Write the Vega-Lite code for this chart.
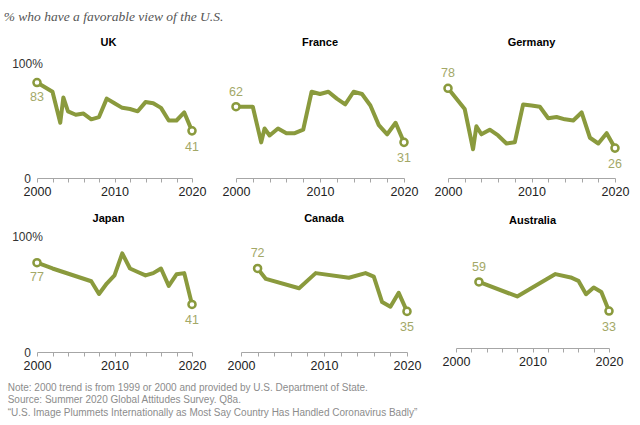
{
  "$schema": "https://vega.github.io/schema/vega-lite/v6.json",
  "background": "white",
  "padding": {"left": 3, "top": 9, "right": 5, "bottom": 5},
  "datasets": {
    "fav": [
      {"country": "UK", "year": 2000, "value": 83},
      {"country": "UK", "year": 2002, "value": 75},
      {"country": "UK", "year": 2003, "value": 48},
      {"country": "UK", "year": 2003.4, "value": 70},
      {"country": "UK", "year": 2004, "value": 58},
      {"country": "UK", "year": 2005, "value": 55},
      {"country": "UK", "year": 2006, "value": 56},
      {"country": "UK", "year": 2007, "value": 51},
      {"country": "UK", "year": 2008, "value": 53},
      {"country": "UK", "year": 2009, "value": 69},
      {"country": "UK", "year": 2010, "value": 65},
      {"country": "UK", "year": 2011, "value": 61},
      {"country": "UK", "year": 2012, "value": 60},
      {"country": "UK", "year": 2013, "value": 58},
      {"country": "UK", "year": 2014, "value": 66},
      {"country": "UK", "year": 2015, "value": 65},
      {"country": "UK", "year": 2016, "value": 61},
      {"country": "UK", "year": 2017, "value": 50},
      {"country": "UK", "year": 2018, "value": 50},
      {"country": "UK", "year": 2019, "value": 57},
      {"country": "UK", "year": 2020, "value": 41},
      {"country": "France", "year": 2000, "value": 62},
      {"country": "France", "year": 2002, "value": 62},
      {"country": "France", "year": 2003, "value": 31},
      {"country": "France", "year": 2003.4, "value": 43},
      {"country": "France", "year": 2004, "value": 37},
      {"country": "France", "year": 2005, "value": 43},
      {"country": "France", "year": 2006, "value": 39},
      {"country": "France", "year": 2007, "value": 39},
      {"country": "France", "year": 2008, "value": 42},
      {"country": "France", "year": 2009, "value": 75},
      {"country": "France", "year": 2010, "value": 73},
      {"country": "France", "year": 2011, "value": 75},
      {"country": "France", "year": 2012, "value": 69},
      {"country": "France", "year": 2013, "value": 64},
      {"country": "France", "year": 2014, "value": 75},
      {"country": "France", "year": 2015, "value": 73},
      {"country": "France", "year": 2016, "value": 63},
      {"country": "France", "year": 2017, "value": 46},
      {"country": "France", "year": 2018, "value": 38},
      {"country": "France", "year": 2019, "value": 48},
      {"country": "France", "year": 2020, "value": 31},
      {"country": "Germany", "year": 2000, "value": 78},
      {"country": "Germany", "year": 2002, "value": 60},
      {"country": "Germany", "year": 2003, "value": 25},
      {"country": "Germany", "year": 2003.4, "value": 45},
      {"country": "Germany", "year": 2004, "value": 38},
      {"country": "Germany", "year": 2005, "value": 42},
      {"country": "Germany", "year": 2006, "value": 37},
      {"country": "Germany", "year": 2007, "value": 30},
      {"country": "Germany", "year": 2008, "value": 31},
      {"country": "Germany", "year": 2009, "value": 64},
      {"country": "Germany", "year": 2010, "value": 63},
      {"country": "Germany", "year": 2011, "value": 62},
      {"country": "Germany", "year": 2012, "value": 52},
      {"country": "Germany", "year": 2013, "value": 53},
      {"country": "Germany", "year": 2014, "value": 51},
      {"country": "Germany", "year": 2015, "value": 50},
      {"country": "Germany", "year": 2016, "value": 57},
      {"country": "Germany", "year": 2017, "value": 35},
      {"country": "Germany", "year": 2018, "value": 30},
      {"country": "Germany", "year": 2019, "value": 39},
      {"country": "Germany", "year": 2020, "value": 26},
      {"country": "Japan", "year": 2000, "value": 77},
      {"country": "Japan", "year": 2002, "value": 72},
      {"country": "Japan", "year": 2007, "value": 61},
      {"country": "Japan", "year": 2008, "value": 50},
      {"country": "Japan", "year": 2009, "value": 59},
      {"country": "Japan", "year": 2010, "value": 66},
      {"country": "Japan", "year": 2011, "value": 85},
      {"country": "Japan", "year": 2012, "value": 72},
      {"country": "Japan", "year": 2013, "value": 69},
      {"country": "Japan", "year": 2014, "value": 66},
      {"country": "Japan", "year": 2015, "value": 68},
      {"country": "Japan", "year": 2016, "value": 72},
      {"country": "Japan", "year": 2017, "value": 57},
      {"country": "Japan", "year": 2018, "value": 67},
      {"country": "Japan", "year": 2019, "value": 68},
      {"country": "Japan", "year": 2020, "value": 41},
      {"country": "Canada", "year": 2002, "value": 72},
      {"country": "Canada", "year": 2003, "value": 63},
      {"country": "Canada", "year": 2007, "value": 55},
      {"country": "Canada", "year": 2009, "value": 68},
      {"country": "Canada", "year": 2013, "value": 64},
      {"country": "Canada", "year": 2015, "value": 68},
      {"country": "Canada", "year": 2016, "value": 65},
      {"country": "Canada", "year": 2017, "value": 43},
      {"country": "Canada", "year": 2018, "value": 39},
      {"country": "Canada", "year": 2019, "value": 51},
      {"country": "Canada", "year": 2020, "value": 35},
      {"country": "Australia", "year": 2003, "value": 59},
      {"country": "Australia", "year": 2008, "value": 46},
      {"country": "Australia", "year": 2013, "value": 66},
      {"country": "Australia", "year": 2015, "value": 63},
      {"country": "Australia", "year": 2016, "value": 60},
      {"country": "Australia", "year": 2017, "value": 48},
      {"country": "Australia", "year": 2018, "value": 54},
      {"country": "Australia", "year": 2019, "value": 50},
      {"country": "Australia", "year": 2020, "value": 33}
    ]
  },
  "data": {"name": "fav"},
  "title": {
    "text": "% who have a favorable view of the U.S.",
    "anchor": "start",
    "frame": "bounds",
    "dx": -4,
    "offset": 14,
    "font": "Liberation Serif",
    "fontStyle": "italic",
    "fontWeight": "normal",
    "fontSize": 13.5,
    "color": "#555555"
  },
  "spacing": 15,
  "vconcat": [
    {
      "bounds": "flush",
      "spacing": 44,
      "hconcat": [
        {
          "width": 155, "height": 115,
          "title": {"text": "UK", "dx": -6, "offset": 9},
          "transform": [{"filter": "datum.country == 'UK'"}],
          "encoding": {
            "x": {"field": "year", "type": "quantitative", "scale": {"domain": [2000, 2020], "nice": false, "zero": false},
                  "axis": {"values": [2000, 2002, 2004, 2006, 2008, 2010, 2012, 2014, 2016, 2018, 2020], "format": "d", "labelExpr": "datum.value % 10 == 0 ? datum.label : ''", "title": null}},
            "y": {"field": "value", "type": "quantitative", "scale": {"domain": [0, 100], "nice": false},
                  "axis": {"values": [0, 100], "labelExpr": "datum.value == 100 ? '100%' : '0'", "domain": false, "ticks": false, "grid": false, "labelAlign": "center", "labelPadding": 10, "labelFlush": false, "labelFontSize": 12, "labelColor": "#333333", "title": null}}
          },
          "layer": [
            {"mark": {"type": "line", "color": "#8a9a3d", "strokeWidth": 4, "strokeJoin": "round"}},
            {"transform": [{"filter": "datum.year == 2000 || datum.year == 2020"}], "mark": {"type": "point", "filled": true, "fill": "white", "stroke": "#8a9a3d", "strokeWidth": 2.5, "size": 50, "opacity": 1}},
            {"transform": [{"filter": "datum.year == 2000"}], "mark": {"type": "text", "dy": 14, "fontSize": 12.5, "color": "#a3a867", "baseline": "middle"}, "encoding": {"text": {"field": "value"}}},
            {"transform": [{"filter": "datum.year == 2020"}], "mark": {"type": "text", "dy": 16, "fontSize": 12.5, "color": "#a3a867", "baseline": "middle"}, "encoding": {"text": {"field": "value"}}}
          ]
        },
        {
          "width": 168, "height": 115,
          "title": {"text": "France", "offset": 15},
          "transform": [{"filter": "datum.country == 'France'"}],
          "encoding": {
            "x": {"field": "year", "type": "quantitative", "scale": {"domain": [2000, 2020], "nice": false, "zero": false},
                  "axis": {"values": [2000, 2002, 2004, 2006, 2008, 2010, 2012, 2014, 2016, 2018, 2020], "format": "d", "labelExpr": "datum.value % 10 == 0 ? datum.label : ''", "title": null}},
            "y": {"field": "value", "type": "quantitative", "scale": {"domain": [0, 100], "nice": false}, "axis": null}
          },
          "layer": [
            {"mark": {"type": "line", "color": "#8a9a3d", "strokeWidth": 4, "strokeJoin": "round"}},
            {"transform": [{"filter": "datum.year == 2000 || datum.year == 2020"}], "mark": {"type": "point", "filled": true, "fill": "white", "stroke": "#8a9a3d", "strokeWidth": 2.5, "size": 50, "opacity": 1}},
            {"transform": [{"filter": "datum.year == 2000"}], "mark": {"type": "text", "dy": -15, "fontSize": 12.5, "color": "#a3a867", "baseline": "middle"}, "encoding": {"text": {"field": "value"}}},
            {"transform": [{"filter": "datum.year == 2020"}], "mark": {"type": "text", "dy": 16, "fontSize": 12.5, "color": "#a3a867", "baseline": "middle"}, "encoding": {"text": {"field": "value"}}}
          ]
        },
        {
          "width": 167, "height": 115,
          "title": {"text": "Germany", "offset": 15},
          "transform": [{"filter": "datum.country == 'Germany'"}],
          "encoding": {
            "x": {"field": "year", "type": "quantitative", "scale": {"domain": [2000, 2020], "nice": false, "zero": false},
                  "axis": {"values": [2000, 2002, 2004, 2006, 2008, 2010, 2012, 2014, 2016, 2018, 2020], "format": "d", "labelExpr": "datum.value % 10 == 0 ? datum.label : ''", "title": null}},
            "y": {"field": "value", "type": "quantitative", "scale": {"domain": [0, 100], "nice": false}, "axis": null}
          },
          "layer": [
            {"mark": {"type": "line", "color": "#8a9a3d", "strokeWidth": 4, "strokeJoin": "round"}},
            {"transform": [{"filter": "datum.year == 2000 || datum.year == 2020"}], "mark": {"type": "point", "filled": true, "fill": "white", "stroke": "#8a9a3d", "strokeWidth": 2.5, "size": 50, "opacity": 1}},
            {"transform": [{"filter": "datum.year == 2000"}], "mark": {"type": "text", "dy": -15, "fontSize": 12.5, "color": "#a3a867", "baseline": "middle"}, "encoding": {"text": {"field": "value"}}},
            {"transform": [{"filter": "datum.year == 2020"}], "mark": {"type": "text", "dy": 16, "fontSize": 12.5, "color": "#a3a867", "baseline": "middle"}, "encoding": {"text": {"field": "value"}}}
          ]
        }
      ]
    },
    {
      "bounds": "flush",
      "spacing": 49,
      "title": {
        "text": [
          "Note: 2000 trend is from 1999 or 2000 and provided by U.S. Department of State.",
          "Source: Summer 2020 Global Attitudes Survey. Q8a.",
          "“U.S. Image Plummets Internationally as Most Say Country Has Handled Coronavirus Badly”"
        ],
        "orient": "bottom",
        "anchor": "start",
        "frame": "bounds",
        "dx": -4,
        "offset": 11,
        "fontSize": 10,
        "fontWeight": "normal",
        "color": "#8c8c8c",
        "lineHeight": 12.5
      },
      "hconcat": [
        {
          "width": 155, "height": 116,
          "title": {"text": "Japan", "dx": -6, "offset": 6},
          "transform": [{"filter": "datum.country == 'Japan'"}],
          "encoding": {
            "x": {"field": "year", "type": "quantitative", "scale": {"domain": [2000, 2020], "nice": false, "zero": false},
                  "axis": {"values": [2000, 2002, 2004, 2006, 2008, 2010, 2012, 2014, 2016, 2018, 2020], "format": "d", "labelExpr": "datum.value % 10 == 0 ? datum.label : ''", "title": null}},
            "y": {"field": "value", "type": "quantitative", "scale": {"domain": [0, 100], "nice": false},
                  "axis": {"values": [0, 100], "labelExpr": "datum.value == 100 ? '100%' : '0'", "domain": false, "ticks": false, "grid": false, "labelAlign": "center", "labelPadding": 10, "labelFlush": false, "labelFontSize": 12, "labelColor": "#333333", "title": null}}
          },
          "layer": [
            {"mark": {"type": "line", "color": "#8a9a3d", "strokeWidth": 4, "strokeJoin": "round"}},
            {"transform": [{"filter": "datum.year == 2000 || datum.year == 2020"}], "mark": {"type": "point", "filled": true, "fill": "white", "stroke": "#8a9a3d", "strokeWidth": 2.5, "size": 50, "opacity": 1}},
            {"transform": [{"filter": "datum.year == 2000"}], "mark": {"type": "text", "dy": 14, "fontSize": 12.5, "color": "#a3a867", "baseline": "middle"}, "encoding": {"text": {"field": "value"}}},
            {"transform": [{"filter": "datum.year == 2020"}], "mark": {"type": "text", "dy": 16, "fontSize": 12.5, "color": "#a3a867", "baseline": "middle"}, "encoding": {"text": {"field": "value"}}}
          ]
        },
        {
          "width": 166, "height": 116,
          "title": {"text": "Canada", "offset": 12},
          "transform": [{"filter": "datum.country == 'Canada'"}],
          "encoding": {
            "x": {"field": "year", "type": "quantitative", "scale": {"domain": [2000, 2020], "nice": false, "zero": false},
                  "axis": {"values": [2000, 2002, 2004, 2006, 2008, 2010, 2012, 2014, 2016, 2018, 2020], "format": "d", "labelExpr": "datum.value % 10 == 0 ? datum.label : ''", "title": null}},
            "y": {"field": "value", "type": "quantitative", "scale": {"domain": [0, 100], "nice": false}, "axis": null}
          },
          "layer": [
            {"mark": {"type": "line", "color": "#8a9a3d", "strokeWidth": 4, "strokeJoin": "round"}},
            {"transform": [{"filter": "datum.year == 2002 || datum.year == 2020"}], "mark": {"type": "point", "filled": true, "fill": "white", "stroke": "#8a9a3d", "strokeWidth": 2.5, "size": 50, "opacity": 1}},
            {"transform": [{"filter": "datum.year == 2002"}], "mark": {"type": "text", "dy": -15, "fontSize": 12.5, "color": "#a3a867", "baseline": "middle"}, "encoding": {"text": {"field": "value"}}},
            {"transform": [{"filter": "datum.year == 2020"}], "mark": {"type": "text", "dy": 16, "fontSize": 12.5, "color": "#a3a867", "baseline": "middle"}, "encoding": {"text": {"field": "value"}}}
          ]
        },
        {
          "width": 153, "height": 112,
          "title": {"text": "Australia", "offset": 10},
          "transform": [{"filter": "datum.country == 'Australia'"}],
          "encoding": {
            "x": {"field": "year", "type": "quantitative", "scale": {"domain": [2000, 2020], "nice": false, "zero": false},
                  "axis": {"values": [2000, 2002, 2004, 2006, 2008, 2010, 2012, 2014, 2016, 2018, 2020], "format": "d", "labelExpr": "datum.value % 10 == 0 ? datum.label : ''", "title": null}},
            "y": {"field": "value", "type": "quantitative", "scale": {"domain": [0, 100], "nice": false}, "axis": null}
          },
          "layer": [
            {"mark": {"type": "line", "color": "#8a9a3d", "strokeWidth": 4, "strokeJoin": "round"}},
            {"transform": [{"filter": "datum.year == 2003 || datum.year == 2020"}], "mark": {"type": "point", "filled": true, "fill": "white", "stroke": "#8a9a3d", "strokeWidth": 2.5, "size": 50, "opacity": 1}},
            {"transform": [{"filter": "datum.year == 2003"}], "mark": {"type": "text", "dy": -15, "fontSize": 12.5, "color": "#a3a867", "baseline": "middle"}, "encoding": {"text": {"field": "value"}}},
            {"transform": [{"filter": "datum.year == 2020"}], "mark": {"type": "text", "dy": 16, "fontSize": 12.5, "color": "#a3a867", "baseline": "middle"}, "encoding": {"text": {"field": "value"}}}
          ]
        }
      ]
    }
  ],
  "config": {
    "font": "Liberation Sans",
    "view": {"stroke": null},
    "title": {"font": "Liberation Sans", "fontSize": 11, "fontWeight": "bold", "color": "#000000", "frame": "group"},
    "axisX": {
      "grid": false,
      "domainColor": "#a6a6a6",
      "tickColor": "#a6a6a6",
      "tickSize": 4,
      "labelFontSize": 12.5,
      "labelColor": "#222222",
      "labelPadding": 3,
      "labelFlush": false,
      "labelOverlap": false
    }
  }
}
